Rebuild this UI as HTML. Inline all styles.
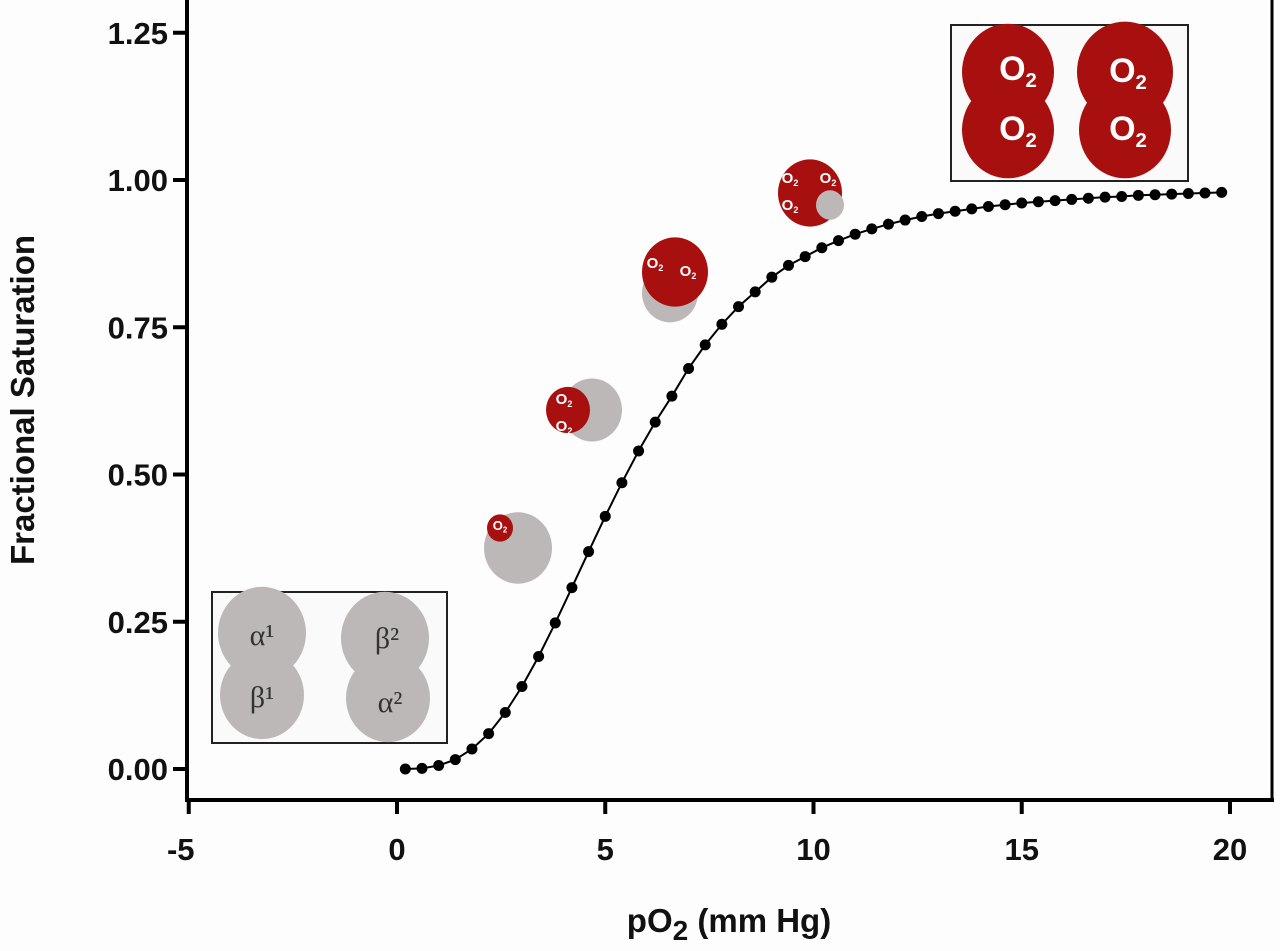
<!DOCTYPE html>
<html><head><meta charset="utf-8"><style>
body{margin:0;background:#fff}
svg{display:block}
text{font-family:"Liberation Sans",Arial,sans-serif;font-weight:bold}
</style></head><body>
<svg id="chart" width="1280" height="951" viewBox="0 0 1280 951">
<rect x="0" y="0" width="1280" height="951" fill="#fdfdfd"/>
<g id="axes"></g>
<g id="mols"></g>
<g id="series"></g>
</svg>
<script>
const xValues=[0.2,0.6,1.0,1.4,1.8,2.2,2.6,3.0,3.4,3.8,4.2,4.6,5.0,5.4,5.8,6.2,6.6,7.0,7.4,7.8,8.2,8.6,9.0,9.4,9.8,10.2,10.6,11.0,11.4,11.8,12.2,12.6,13.0,13.4,13.8,14.2,14.6,15.0,15.4,15.8,16.2,16.6,17.0,17.4,17.8,18.2,18.6,19.0,19.4,19.8];
const satValues=[0.000,0.001,0.006,0.016,0.034,0.060,0.096,0.140,0.191,0.248,0.308,0.369,0.429,0.486,0.540,0.589,0.633,0.680,0.720,0.755,0.785,0.810,0.835,0.855,0.870,0.885,0.897,0.908,0.917,0.925,0.932,0.938,0.943,0.947,0.951,0.955,0.958,0.961,0.963,0.965,0.967,0.969,0.971,0.972,0.974,0.975,0.976,0.977,0.978,0.979];
const xTicks=[-5,0,5,10,15,20];
const yTicks=[0,0.25,0.5,0.75,1.0,1.25];
const yTickLabels=["0.00","0.25","0.50","0.75","1.00","1.25"];

const NS="http://www.w3.org/2000/svg";
const X=v=>397+(v)*41.65;
const Y=v=>769-v*589;
function mk(tag,attrs,parent){const e=document.createElementNS(NS,tag);for(const k in attrs)e.setAttribute(k,attrs[k]);parent.appendChild(e);return e;}
const axes=document.getElementById('axes');
let l=mk('line',{x1:187,y1:0,x2:187,y2:800,stroke:'#000','stroke-width':4},axes);

l=mk('line',{x1:185,y1:800,x2:1274,y2:800,stroke:'#000','stroke-width':4},axes);

l=mk('line',{x1:1272,y1:0,x2:1272,y2:802,stroke:'#000','stroke-width':3},axes);

xTicks.forEach(v=>{
  const t=mk('line',{x1:X(v),y1:800,x2:X(v),y2:814,stroke:'#000','stroke-width':4},axes);
  
  const tx=mk('text',{x:X(v)-(v<0?8:0),y:860,'text-anchor':'middle','font-size':31,fill:'#111'},axes);
  tx.textContent=String(v);
  
});
yTicks.forEach((v,i)=>{
  const t=mk('line',{x1:173,y1:Y(v),x2:187,y2:Y(v),stroke:'#000','stroke-width':4},axes);
  
  const tx=mk('text',{x:168,y:Y(v)+11,'text-anchor':'end','font-size':31,fill:'#111'},axes);
  tx.textContent=yTickLabels[i];
  
});
let yt=mk('text',{x:0,y:0,transform:'translate(34,400) rotate(-90)','text-anchor':'middle','font-size':33,fill:'#111'},axes);
yt.textContent='Fractional Saturation';

let xt=mk('text',{x:729,y:932,'text-anchor':'middle','font-size':33,fill:'#111'},axes);
xt.innerHTML='pO<tspan font-size="28" dy="8">2</tspan><tspan dy="-8"> (mm Hg)</tspan>';


const mols=document.getElementById('mols');
function blob(cx,cy,r,fill,name){const c=mk('ellipse',{cx:cx,cy:cy,rx:r,ry:r*1.05,fill:fill},mols);return c;}
function label(x,y,s,size,fill,name,serif){const t=mk('text',{x:x,y:y,'font-size':size,'text-anchor':'middle'},mols);t.style.fill=fill;if(serif){t.style.fontFamily='"Liberation Serif",serif';t.style.fontWeight='normal';}t.innerHTML=s;return t;}
function o2(x,y,size,name){return label(x,y,'O<tspan font-size="'+(size*0.6)+'" dy="'+(size*0.2)+'">2</tspan>',size,'#fff',name||'o2-label');}
const GR='#bcb8b8',RD='#a8100f';
let b=mk('rect',{x:212,y:592,width:235,height:151,fill:'#fafafa',stroke:'#222','stroke-width':2},mols);
blob(262,633,44,GR,'alpha1-subunit');blob(262,695,42,GR,'beta1-subunit');
blob(385,638,44,GR,'beta2-subunit');blob(388,698,42,GR,'alpha2-subunit');
label(262,645,'α¹',30,'#333','alpha1-label',true);label(262,707,'β¹',30,'#333','beta1-label',true);
label(387,648,'β²',30,'#333','beta2-label',true);label(390,712,'α²',30,'#333','alpha2-label',true);
b=mk('rect',{x:951,y:25,width:237,height:156,fill:'#fafafa',stroke:'#222','stroke-width':2},mols);
blob(1008,72,46,RD,'oxy-alpha1');blob(1008,130,46,RD,'oxy-beta1');blob(1125,72,48,RD,'oxy-beta2');blob(1125,130,46,RD,'oxy-alpha2');
o2(1018,80,34);o2(1018,140,34);o2(1128,82,34);o2(1128,140,34);
blob(518,548,34,GR,'hb-1o2');blob(500,528,13,RD,'hb-1o2-red');o2(500,530,13);
blob(592,410,30,GR,'hb-2o2');blob(568,410,22,RD,'hb-2o2-red');o2(564,404,15);o2(564,431,15);
blob(670,293,28,GR,'hb-3o2');blob(675,272,33,RD,'hb-3o2-red');o2(655,268,15);o2(688,276,15);
blob(810,193,32,RD,'hb-4o2');blob(830,205,14,GR,'hb-4o2-gray');o2(790,183,15);o2(828,183,15);o2(790,210,15);

const s=document.getElementById('series');
const p=mk('path',{d:xValues.map((x,i)=>(i?'L':'M')+X(x).toFixed(1)+','+Y(satValues[i]).toFixed(1)).join(''),fill:'none',stroke:'#000','stroke-width':2},s);

xValues.forEach((x,i)=>{
  const c=mk('circle',{cx:X(x),cy:Y(satValues[i]),r:5.5,fill:'#000'},s);
  
  
});
</script>
</body></html>
